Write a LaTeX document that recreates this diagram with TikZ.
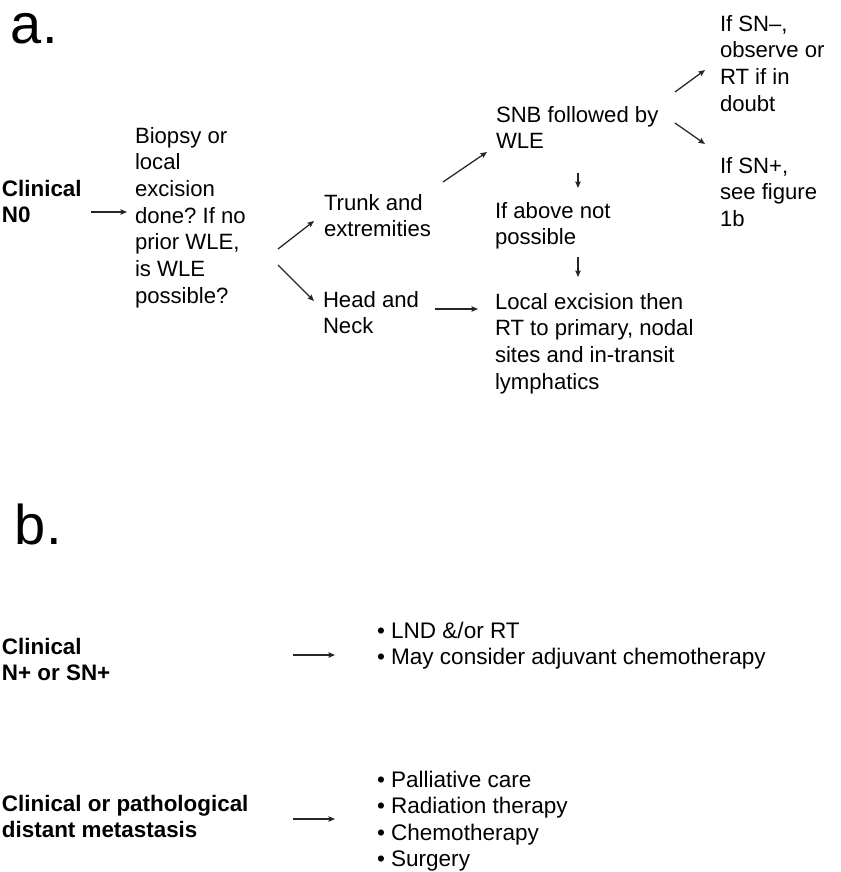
\documentclass[tikz,border=0pt]{standalone}
\usepackage{fontspec}
\setmainfont{Liberation Sans}
\usetikzlibrary{arrows.meta}
\frenchspacing
\begin{document}
\begin{tikzpicture}[x=0.75pt,y=-0.75pt,
  txt/.style={anchor=north west,inner sep=0pt,outer sep=0pt,align=left,
    font=\fontsize{16.6}{20}\selectfont},
  btxt/.style={txt,font=\fontsize{16.8}{19.6}\selectfont\bfseries},
  bul/.style={txt,font=\fontsize{16.9}{19.8}\selectfont},
  big/.style={anchor=north west,inner sep=0pt,outer sep=0pt,
    font=\fontsize{42}{48}\selectfont},
  arr/.style={draw=black!85,line width=0.95pt,
    -{Stealth[length=4.8pt,width=4pt,inset=0.6pt]}},
]
\useasboundingbox (0,0) rectangle (840,872);

% panel labels
\node[big] (la) at (11,13) {a.};
\node[big] (lb) at (15,504) {b.};

% panel a
\node[btxt] (cn0) at (2,180) {Clinical\\N0};
\node[txt] (bio) at (135,127) {Biopsy or\\local\\excision\\done? If no\\prior WLE,\\is WLE\\possible?};
\node[txt] (trunk) at (324,194) {Trunk and\\extremities};
\node[txt] (head) at (323,291) {Head and\\Neck};
\node[txt] (snb) at (496,106) {SNB followed by\\WLE};
\node[txt] (above) at (495,202) {If above not\\possible};
\node[txt] (local) at (495,293) {Local excision then\\RT to primary, nodal\\sites and in-transit\\lymphatics};
\node[txt] (snneg) at (720,15) {If SN–,\\observe or\\RT if in\\doubt};
\node[txt] (snpos) at (720,157) {If SN+,\\see figure\\1b};

\draw[arr] ([shift={(89,32)}]cn0.north west) -- ([shift={(-8,85)}]bio.north west);
\draw[arr] ([shift={(143,122)}]bio.north west) -- ([shift={(-10,27)}]trunk.north west);
\draw[arr] ([shift={(143,138)}]bio.north west) -- ([shift={(-9,10)}]head.north west);
\draw[arr] ([shift={(119,-12)}]trunk.north west) -- ([shift={(-9,46)}]snb.north west);
\draw[arr] ([shift={(112,18)}]head.north west) -- ([shift={(-17,16)}]local.north west);
\draw[arr] ([shift={(82,67)}]snb.north west) -- ([shift={(83,-14)}]above.north west);
\draw[arr] ([shift={(83,55)}]above.north west) -- ([shift={(83,-16)}]local.north west);
\draw[arr] ([shift={(179,-14)}]snb.north west) -- ([shift={(-15,55)}]snneg.north west);
\draw[arr] ([shift={(179,17)}]snb.north west) -- ([shift={(-15,-13)}]snpos.north west);

% panel b
\node[btxt] (cnp) at (2,638) {Clinical\\N+ or SN+};
\node[bul] (lnd) at (377,622) {• LND \&/or RT\\• May consider adjuvant chemotherapy};
\node[btxt] (cdm) at (2,795) {Clinical or pathological\\distant metastasis};
\node[bul] (pal) at (377,771) {• Palliative care\\• Radiation therapy\\• Chemotherapy\\• Surgery};

\draw[arr] ([shift={(291,17)}]cnp.north west) -- ([shift={(-42,33)}]lnd.north west);
\draw[arr] ([shift={(291,24)}]cdm.north west) -- ([shift={(-42,48)}]pal.north west);
\end{tikzpicture}
\end{document}
